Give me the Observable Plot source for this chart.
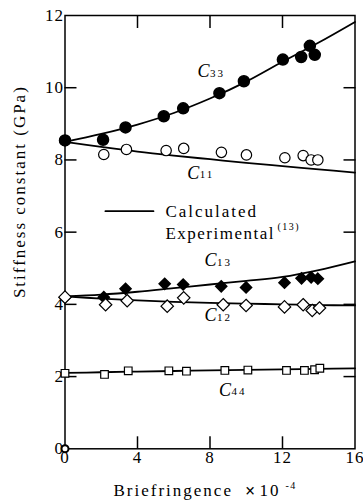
<!DOCTYPE html>
<html><head><meta charset="utf-8">
<script src="https://cdn.jsdelivr.net/npm/d3@7"></script>
<script src="https://cdn.jsdelivr.net/npm/@observablehq/plot@0.6"></script>
<style>
body{margin:0;background:#fff}
#chart{width:363px;height:500px}
#chart svg, #chart svg text{font-family:'Liberation Serif','Times New Roman',serif}
</style>
</head><body><div id="chart"></div>
<script>
// Experimental points
const c33X = [0, 2.1, 3.34, 5.45, 6.52, 8.52, 9.87, 12.02, 13.03, 13.51, 13.78];
const c33Y = [8.54, 8.56, 8.9, 9.21, 9.43, 9.85, 10.18, 10.78, 10.85, 11.16, 10.91];
const c11X = [0, 2.14, 3.39, 5.58, 6.55, 8.63, 10.01, 12.13, 13.14, 13.58, 13.95];
const c11Y = [8.54, 8.15, 8.29, 8.26, 8.32, 8.21, 8.14, 8.06, 8.12, 8.0, 8.0];
const c13X = [0, 2.14, 3.34, 5.5, 6.52, 8.62, 9.99, 12.11, 13.05, 13.58, 13.95];
const c13Y = [4.2, 4.2, 4.43, 4.57, 4.55, 4.5, 4.47, 4.6, 4.72, 4.75, 4.71];
const c12X = [0, 2.24, 3.43, 5.64, 6.55, 8.73, 9.99, 12.11, 13.14, 13.64, 14.04];
const c12Y = [4.2, 3.99, 4.1, 3.95, 4.18, 3.99, 3.97, 3.93, 3.99, 3.83, 3.9];
const c44X = [0, 2.18, 3.49, 5.73, 6.7, 8.82, 10.09, 12.22, 13.21, 13.77, 14.06];
const c44Y = [2.09, 2.06, 2.16, 2.16, 2.15, 2.17, 2.18, 2.17, 2.17, 2.19, 2.23];
const originX = [0];
const originY = [0];

// Calculated curves
const calcX = [0, 2, 4, 6, 8, 10, 12, 14, 16];
const c33Calc = [8.5, 8.72, 8.98, 9.3, 9.7, 10.17, 10.72, 11.25, 11.82];
const c11Calc = [8.5, 8.36, 8.23, 8.12, 8.02, 7.92, 7.83, 7.74, 7.65];
const c13Calc = [4.22, 4.27, 4.35, 4.45, 4.55, 4.65, 4.76, 4.95, 5.19];
const c12Calc = [4.22, 4.16, 4.11, 4.07, 4.04, 4.02, 4.0, 3.98, 3.97];
const c44Calc = [2.1, 2.12, 2.14, 2.155, 2.17, 2.185, 2.2, 2.215, 2.23];

// Curve labels
const labelSub = ["33", "11", "13", "12", "44"];
const labelX = [7.31, 6.74, 7.70, 7.70, 8.49];
const labelY = [10.45, 7.64, 5.22, 3.69, 1.63];

// Ticks
const xTickLabels = [0, 4, 8, 12, 16];
const yTickLabels = [0, 2, 4, 6, 8, 10, 12];
const xInnerTicks = [4, 8, 12];
const yInnerTicks = [2, 4, 6, 8, 10];

// Legend
const legendLineX = [2.23, 4.88];
const legendY = [6.58, 5.97];
const legendTextX = 5.54;

const pts = (xs, ys) => xs.map((x, i) => ({x, y: ys[i]}));
const curve = (ys) => calcX.map((x, i) => ({x, y: ys[i]}));
const labels = labelSub.map((s, i) => ({sub: s, x: labelX[i], y: labelY[i]}));

const serif = "'Liberation Serif', 'Times New Roman', serif";
const lineStyle = {x: "x", y: "y", stroke: "black", strokeWidth: 1.8, curve: "catmull-rom"};
const T = {fontFamily: serif, lineAnchor: "middle"};

const chart = Plot.plot({
  width: 363, height: 500,
  marginLeft: 64.5, marginRight: 8.5, marginTop: 15, marginBottom: 51.7,
  x: {domain: [0, 16]},
  y: {domain: [0, 12]},
  style: {fontFamily: serif, fontSize: "17px", color: "black", background: "white", letterSpacing: "2px"},
  marks: [
    Plot.frame({stroke: "black", strokeWidth: 1.5}),
    // tick labels
    Plot.axisX({ticks: xTickLabels, tickSize: 0, tickPadding: 2, label: null, fontSize: 17, fontFamily: serif}),
    Plot.axisY({ticks: yTickLabels, tickSize: 0, tickPadding: 1, label: null, fontSize: 17, fontFamily: serif}),
    // inward ticks
    Plot.axisX({anchor: "bottom", ticks: xInnerTicks, tickSize: 12, dy: -12, tickFormat: () => "", label: null, strokeWidth: 1.5}),
    Plot.axisX({anchor: "top", ticks: xInnerTicks, tickSize: 12, dy: 12, tickFormat: () => "", label: null, strokeWidth: 1.5}),
    Plot.axisY({anchor: "left", ticks: yInnerTicks, tickSize: 12, dx: 12, tickFormat: () => "", label: null, strokeWidth: 1.5}),
    Plot.axisY({anchor: "right", ticks: yInnerTicks, tickSize: 12, dx: -12, tickFormat: () => "", label: null, strokeWidth: 1.5}),
    // axis titles
    Plot.text(["Stiffness constant (GPa)"], {...T, frameAnchor: "left", textAnchor: "middle", rotate: -90, dx: -45.5, dy: -40.5, fontSize: 17}),
    Plot.text(["Briefringence"], {...T, frameAnchor: "bottom-left", dx: 48.5, dy: 42, textAnchor: "start", fontSize: 17}),
    Plot.text(["×"], {...T, frameAnchor: "bottom-left", dx: 180, dy: 42, textAnchor: "start", fontSize: 18, fontWeight: "bold", fontFamily: "DejaVu Sans"}),
    Plot.text(["10"], {...T, frameAnchor: "bottom-left", dx: 194.5, dy: 42, textAnchor: "start", fontSize: 17}),
    Plot.text(["-4"], {...T, frameAnchor: "bottom-left", dx: 220.5, dy: 37, textAnchor: "start", fontSize: 10}),
    // calculated curves
    Plot.line(curve(c33Calc), lineStyle),
    Plot.line(curve(c11Calc), lineStyle),
    Plot.line(curve(c13Calc), lineStyle),
    Plot.line(curve(c12Calc), lineStyle),
    Plot.line(curve(c44Calc), lineStyle),
    // experimental points
    Plot.dot(pts(c11X, c11Y), {x: "x", y: "y", r: 5.2, stroke: "black", fill: "white", strokeWidth: 1.2}),
    Plot.dot(pts(c33X, c33Y), {x: "x", y: "y", r: 5.5, fill: "black", stroke: "black"}),
    Plot.dot(pts(c13X, c13Y), {x: "x", y: "y", r: 5, symbol: "diamond2", fill: "black", stroke: "black"}),
    Plot.dot(pts(c12X, c12Y), {x: "x", y: "y", r: 5.6, symbol: "diamond2", fill: "white", stroke: "black", strokeWidth: 1.2}),
    Plot.dot(pts(c44X, c44Y), {x: "x", y: "y", r: 4.3, symbol: "square", fill: "white", stroke: "black", strokeWidth: 1.2}),
    Plot.dot(pts(originX, originY), {x: "x", y: "y", r: 3.5, fill: "white", stroke: "black", strokeWidth: 2}),
    // curve labels
    Plot.text(labels, {...T, x: "x", y: "y", text: () => "C", textAnchor: "start", fontSize: 18, fontStyle: "italic"}),
    Plot.text(labels, {...T, x: "x", y: "y", text: "sub", textAnchor: "start", dx: 12.5, dy: 2, fontSize: 11}),
    // legend
    Plot.line(legendLineX.map(x => ({x, y: legendY[0]})), {x: "x", y: "y", stroke: "black", strokeWidth: 1.8}),
    Plot.text(["Calculated"], {...T, x: () => legendTextX, y: () => legendY[0], textAnchor: "start", fontSize: 17}),
    Plot.text(["Experimental"], {...T, x: () => legendTextX, y: () => legendY[1], textAnchor: "start", fontSize: 17}),
    Plot.text(["(13)"], {...T, x: () => legendTextX, y: () => legendY[1], dx: 112, dy: -6, textAnchor: "start", fontSize: 10})
  ]
});
// finer letter spacing for a few texts
d3.select(chart).selectAll("[aria-label^='x-axis tick label'] text, [aria-label^='y-axis tick label'] text").style("letter-spacing", "1px");
d3.select(chart).selectAll("text").each(function() {
  const t = this.textContent;
  if (t === "Experimental") this.style.letterSpacing = "1.5px";
  if (t === "(13)" || t === "-4") this.style.letterSpacing = "1.5px";
});
document.getElementById("chart").appendChild(chart);
</script>
</body></html>
